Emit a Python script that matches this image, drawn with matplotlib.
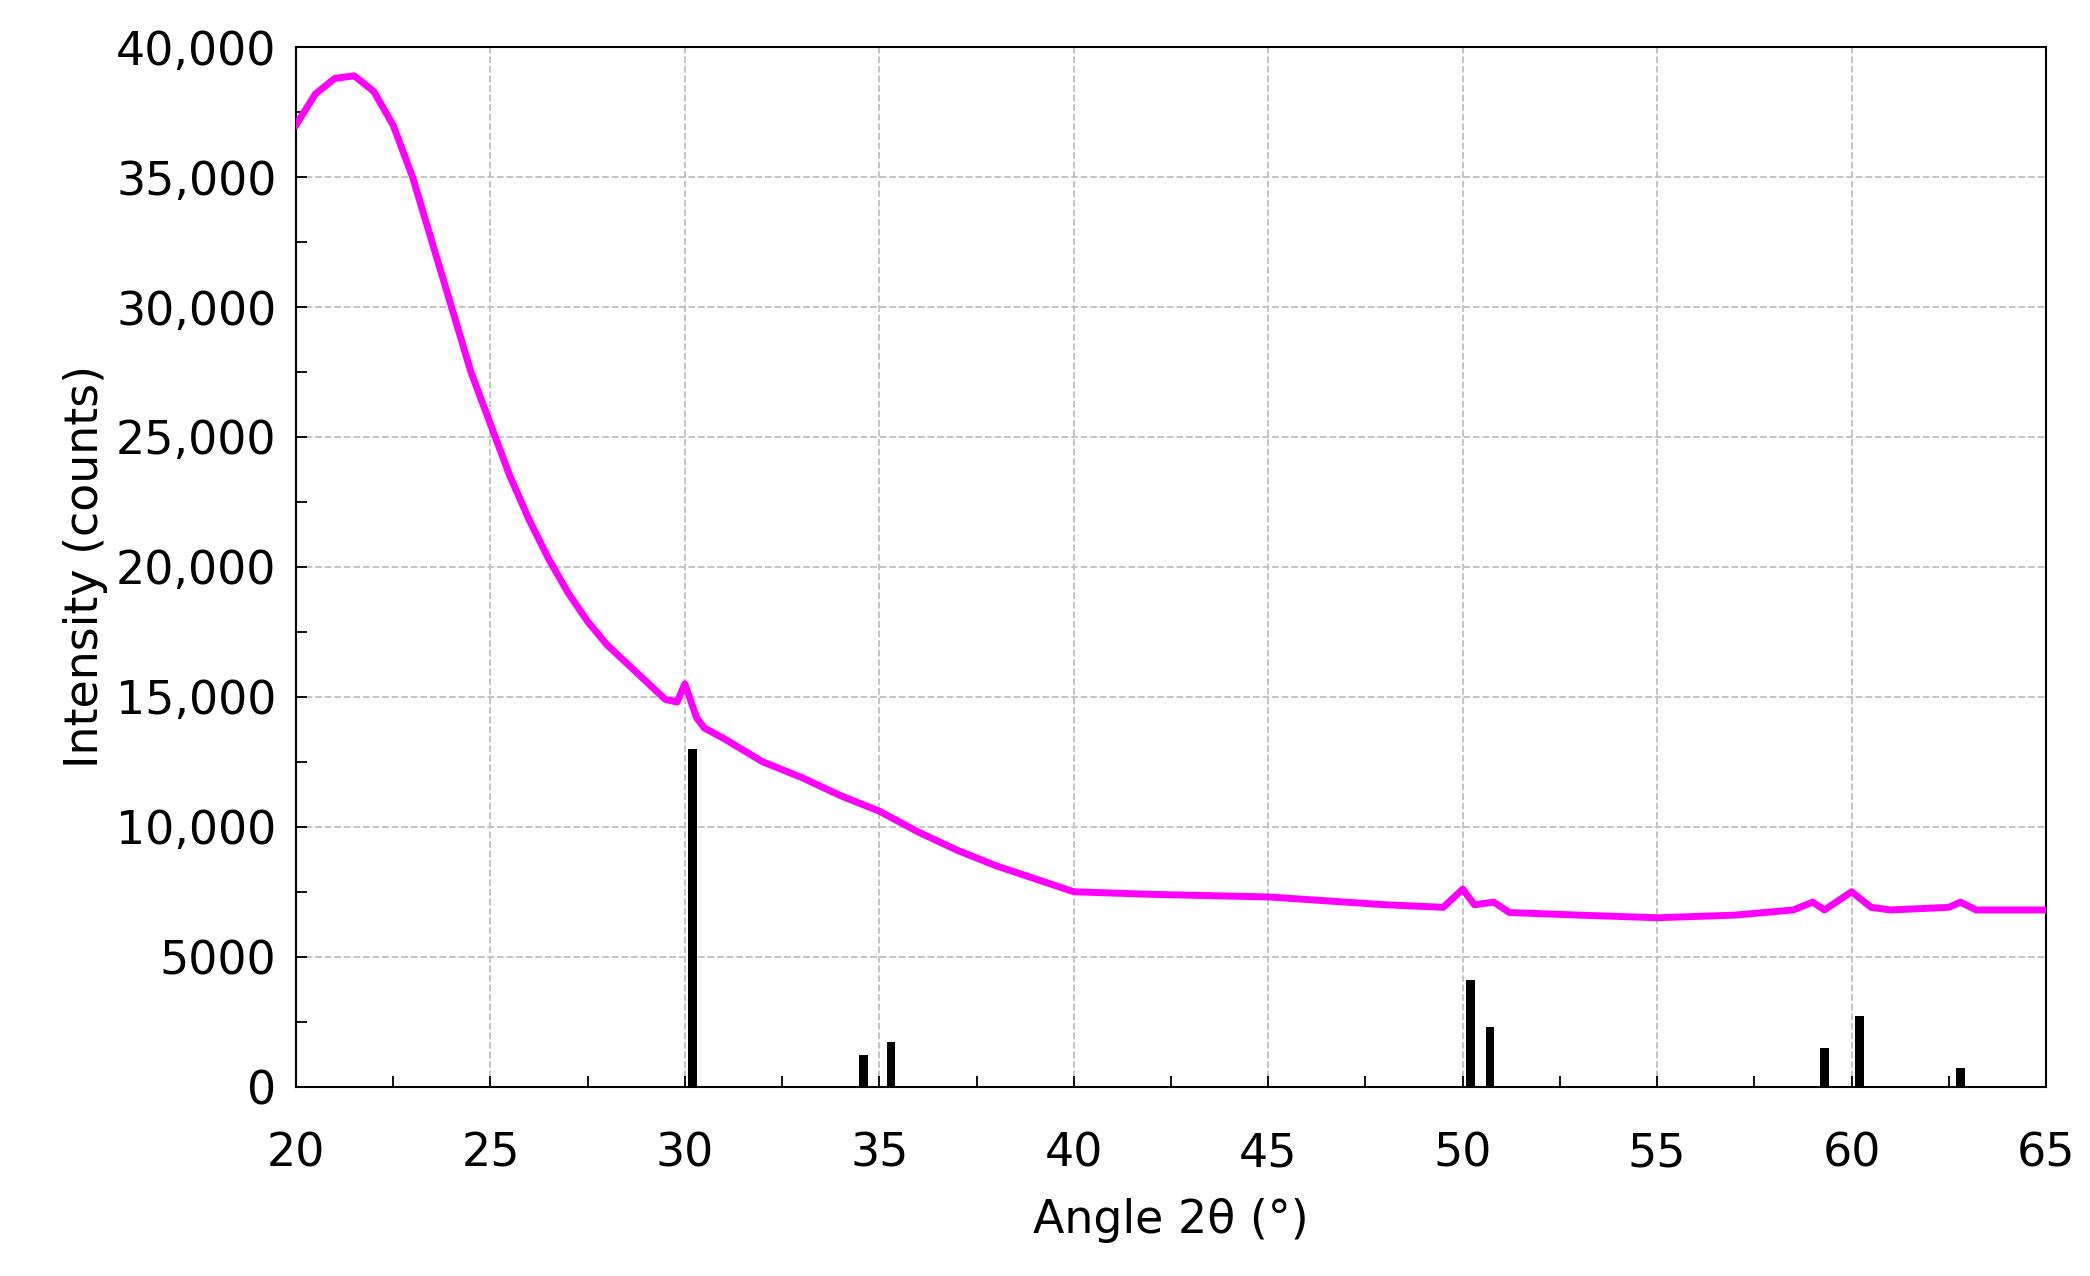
import matplotlib
matplotlib.use("Agg")
import matplotlib.pyplot as plt
from matplotlib.ticker import MultipleLocator, FuncFormatter

angle = [20, 20.5, 21, 21.5, 22, 22.5, 23, 23.5, 24, 24.5, 25, 25.5, 26, 26.5, 27,
         27.5, 28, 28.5, 29, 29.5, 29.8, 30.0, 30.3, 30.5, 31, 32, 33, 34, 35, 36,
         37, 38, 39, 40, 42, 45, 48, 49.5, 50, 50.3, 50.8, 51.2, 53, 55, 57, 58.5,
         59, 59.3, 60, 60.5, 61, 62.5, 62.8, 63.2, 65]
intensity = [37000, 38200, 38800, 38900, 38300, 37000, 35000, 32500, 30000, 27500,
             25500, 23500, 21800, 20300, 19000, 17900, 17000, 16300, 15600, 14900,
             14800, 15500, 14200, 13800, 13400, 12500, 11900, 11200, 10600, 9800,
             9100, 8500, 8000, 7500, 7400, 7300, 7000, 6900, 7600, 7000, 7100, 6700,
             6600, 6500, 6600, 6800, 7100, 6800, 7500, 6900, 6800, 6900, 7100, 6800, 6800]

# reference pattern sticks
ref_angle = [30.2, 34.6, 35.3, 50.2, 50.7, 59.3, 60.2, 62.8]
ref_int = [13000, 1200, 1700, 4100, 2300, 1500, 2700, 700]

fig = plt.figure(figsize=(20.9, 12.76), dpi=100)
ax = fig.add_axes([0.1416, 0.1484, 0.8374, 0.8146])

ax.bar(ref_angle, ref_int, width=0.22, color="black", zorder=3)
ax.plot(angle, intensity, color="#ff00ff", lw=5, zorder=4)

ax.set_xlim(20, 65)
ax.set_ylim(0, 40000)
ax.xaxis.set_major_locator(MultipleLocator(5))
ax.xaxis.set_minor_locator(MultipleLocator(2.5))
ax.yaxis.set_major_locator(MultipleLocator(5000))
ax.yaxis.set_minor_locator(MultipleLocator(2500))
ax.yaxis.set_major_formatter(FuncFormatter(lambda v, p: "%d" % v if v < 10000 else "{:,.0f}".format(v)))
ax.grid(True, which="major", ls="--", color="#c0c0c0", lw=1.3)
ax.set_axisbelow(True)
ax.tick_params(which="both", direction="in", labelsize=33, length=8, width=1.3)
ax.tick_params(axis="x", pad=32)
ax.tick_params(axis="y", pad=14)
for s in ax.spines.values():
    s.set_linewidth(1.5)
ax.set_xlabel("Angle 2θ (°)", fontsize=33, labelpad=16)
ax.set_ylabel("Intensity (counts)", fontsize=33, labelpad=6)

fig.savefig("out.png", dpi=100)
